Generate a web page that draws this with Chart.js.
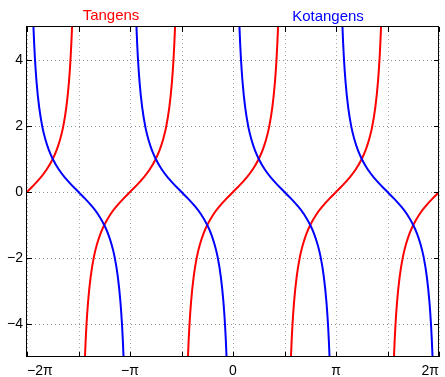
<!DOCTYPE html>
<html>
<head>
<meta charset="utf-8">
<script src="https://cdn.jsdelivr.net/npm/chart.js@4.4.0/dist/chart.umd.min.js"></script>
<style>
  html, body { margin: 0; padding: 0; background: #fff; }
  #wrap { width: 445px; height: 377px; position: relative; }
</style>
</head>
<body>
<div id="wrap"><canvas id="chart"></canvas></div>
<script>
// x (rad) where each branch passes through zero
const tanZeros = [-6.2832, -3.1416, 0, 3.1416, 6.2832];
const cotZeros = [-4.7124, -1.5708, 1.5708, 4.7124];
// one branch: offset from the zero crossing and value there
const branchOffsets = [-1.40, -1.37, -1.33, -1.28, -1.2, -1.1, -1.0, -0.9, -0.785, -0.6, -0.4, -0.2, 0,
                       0.2, 0.4, 0.6, 0.785, 0.9, 1.0, 1.1, 1.2, 1.28, 1.33, 1.37, 1.40];
const tanBranch = [-5.80, -4.91, -4.07, -3.34, -2.57, -1.96, -1.56, -1.26, -1.00, -0.68, -0.42, -0.20, 0,
                   0.20, 0.42, 0.68, 1.00, 1.26, 1.56, 1.96, 2.57, 3.34, 4.07, 4.91, 5.80];
const cotBranch = [5.80, 4.91, 4.07, 3.34, 2.57, 1.96, 1.56, 1.26, 1.00, 0.68, 0.42, 0.20, 0,
                   -0.20, -0.42, -0.68, -1.00, -1.26, -1.56, -1.96, -2.57, -3.34, -4.07, -4.91, -5.80];

const xTickValues = [-6.2832, -4.7124, -3.1416, -1.5708, 0, 1.5708, 3.1416, 4.7124, 6.2832];
const xTickLabels = ['−2π', '', '−π', '', '0', '', 'π', '', '2π'];
const yTickValues = [-4, -2, 0, 2, 4];
const xMin = -6.2832, xMax = 6.2832, yMin = -5, yMax = 5;

function branchSets(zeros, values, color) {
    return zeros.map(z => ({
        data: branchOffsets
            .map((o, i) => ({ x: z + o, y: values[i] }))
            .filter(p => p.x >= xMin - 1e-6 && p.x <= xMax + 1e-6),
        borderColor: color,
        showLine: true,
        clip: 0
    }));
}

// dotted grid, black box and inward ticks, like the original figure
const framePlugin = {
    id: 'frame',
    beforeDatasetsDraw(chart) {
        const { ctx, chartArea: a, scales: { x, y } } = chart;
        ctx.save();
        ctx.lineWidth = 1;
        ctx.setLineDash([1, 3]);
        ctx.strokeStyle = '#a8a8a8';
        xTickValues.forEach(v => {
            const px = Math.round(x.getPixelForValue(v)) + 0.5;
            ctx.beginPath(); ctx.moveTo(px, a.top); ctx.lineTo(px, a.bottom); ctx.stroke();
        });
        ctx.strokeStyle = '#909090';
        yTickValues.forEach(v => {
            const py = Math.round(y.getPixelForValue(v)) + 0.5;
            ctx.beginPath(); ctx.moveTo(a.left, py); ctx.lineTo(a.right, py); ctx.stroke();
        });
        ctx.restore();
    },
    afterDatasetsDraw(chart) {
        const { ctx, chartArea: a, scales: { x, y } } = chart;
        const t = 5;
        ctx.save();
        ctx.setLineDash([]);
        ctx.strokeStyle = '#000';
        ctx.lineWidth = 1;
        ctx.strokeRect(a.left - 0.5, a.top - 0.5, a.right - a.left, a.bottom - a.top);
        ctx.beginPath();
        xTickValues.forEach(v => {
            const px = Math.round(x.getPixelForValue(v)) + 0.5;
            ctx.moveTo(px, a.top); ctx.lineTo(px, a.top + t);
            ctx.moveTo(px, a.bottom); ctx.lineTo(px, a.bottom - t);
        });
        yTickValues.forEach(v => {
            const py = Math.round(y.getPixelForValue(v)) + 0.5;
            ctx.moveTo(a.left, py); ctx.lineTo(a.left + t, py);
            ctx.moveTo(a.right, py); ctx.lineTo(a.right - t, py);
        });
        ctx.stroke();

        ctx.font = '15px "Liberation Sans", Arial, sans-serif';
        ctx.textAlign = 'center';
        ctx.textBaseline = 'alphabetic';
        ctx.fillStyle = '#ff0000';
        ctx.fillText('Tangens', 111, 19.5);
        ctx.fillStyle = '#0000ff';
        ctx.fillText('Kotangens', 328, 20.5);
        ctx.restore();
    }
};

const tickFont = { family: '"Liberation Sans", Arial, sans-serif', size: 14 };

new Chart(document.getElementById('chart'), {
    type: 'scatter',
    data: {
        datasets: [
            ...branchSets(cotZeros, cotBranch, '#0000ff'),
            ...branchSets(tanZeros, tanBranch, '#ff0000')
        ]
    },
    options: {
        responsive: true,
        maintainAspectRatio: false,
        animation: false,
        devicePixelRatio: 1,
        layout: { padding: { top: 27, right: 2, left: 0, bottom: 0 } },
        plugins: {
            legend: { display: false },
            tooltip: { enabled: false }
        },
        elements: {
            point: { radius: 0, hoverRadius: 0 },
            line: { borderWidth: 2, cubicInterpolationMode: 'monotone', capBezierPoints: false }
        },
        scales: {
            x: {
                type: 'linear',
                min: xMin,
                max: xMax,
                grid: { display: false, drawTicks: false },
                border: { display: false },
                afterBuildTicks: s => { s.ticks = xTickValues.map(v => ({ value: v })); },
                afterFit: s => { s.height = 20; },
                ticks: {
                    autoSkip: false,
                    maxRotation: 0,
                    align: 'inner',
                    padding: 6,
                    color: '#000',
                    font: tickFont,
                    callback: (v, i) => xTickLabels[i]
                }
            },
            y: {
                type: 'linear',
                min: yMin,
                max: yMax,
                grid: { display: false, drawTicks: false },
                border: { display: false },
                afterBuildTicks: s => { s.ticks = yTickValues.map(v => ({ value: v })); },
                afterFit: s => { s.width = 27; },
                ticks: {
                    padding: 4,
                    color: '#000',
                    font: tickFont,
                    callback: v => v < 0 ? '−' + Math.abs(v) : String(v)
                }
            }
        }
    },
    plugins: [framePlugin]
});
</script>
</body>
</html>
